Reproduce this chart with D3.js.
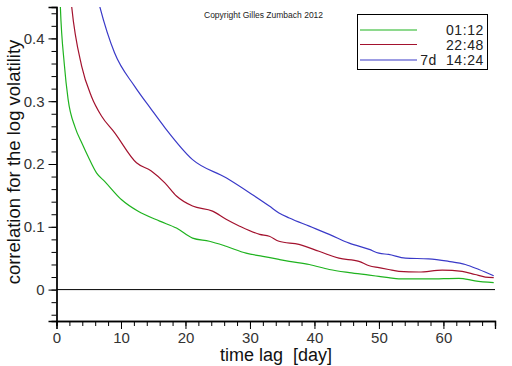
<!DOCTYPE html>
<html>
<head>
<meta charset="utf-8">
<script src="https://cdn.jsdelivr.net/npm/d3@7"></script>
<style>
  body { margin: 0; background: #fff; }
  svg { display: block; font-family: "Liberation Sans", Arial, sans-serif; }
</style>
</head>
<body>
<svg id="viz_area" width="512" height="366"></svg>
<script>
// lag in days, correlation values
const greenLag = [0.3, 0.6, 1.2, 1.8, 2.9, 4.0, 4.9, 6.2, 7.5, 10.1, 12.6, 16.0, 18.6, 21.1, 23.7, 26.3, 29.4, 32.0, 34.5, 36.1, 39.2, 42.3, 45.4, 48.5, 50.0, 51.5, 53.1, 57.7, 62.4, 64.9, 67.8]
const greenVal = [0.55, 0.45, 0.36, 0.303, 0.258, 0.232, 0.212, 0.186, 0.172, 0.143, 0.125, 0.109, 0.098, 0.082, 0.077, 0.069, 0.058, 0.053, 0.048, 0.045, 0.040, 0.032, 0.027, 0.023, 0.021, 0.019, 0.017, 0.017, 0.018, 0.014, 0.011]

const redLag = [2.0, 2.35, 3.9, 5.4, 7.0, 9.0, 12.4, 14.7, 16.8, 18.6, 21.1, 24.2, 26.3, 28.4, 31.5, 33.0, 34.5, 37.6, 40.7, 43.8, 46.9, 48.5, 50.0, 51.5, 53.1, 56.2, 59.8, 62.9, 64.9, 66.5, 67.8]
const redVal = [0.49, 0.451, 0.356, 0.308, 0.276, 0.25, 0.202, 0.189, 0.17, 0.149, 0.133, 0.125, 0.112, 0.101, 0.088, 0.085, 0.077, 0.072, 0.061, 0.050, 0.045, 0.038, 0.035, 0.032, 0.029, 0.028, 0.031, 0.029, 0.024, 0.020, 0.019]

const blueLag = [6.0, 6.7, 9.0, 12.1, 14.7, 16.8, 21.1, 26.3, 30.4, 33.0, 34.5, 36.1, 39.2, 42.3, 45.4, 48.5, 50.0, 51.5, 54.1, 57.7, 60.8, 63.4, 65.5, 67.8]
const blueVal = [0.48, 0.451, 0.377, 0.324, 0.287, 0.258, 0.207, 0.178, 0.151, 0.133, 0.122, 0.114, 0.101, 0.088, 0.074, 0.064, 0.058, 0.056, 0.050, 0.049, 0.045, 0.040, 0.032, 0.022]

const seriesNames = ['01:12', '22:48', '7d  14:24']
const seriesColors = ['#1fb31f', '#a3122e', '#3a3ac8']

const xTicks = [0, 10, 20, 30, 40, 50, 60]
const yTicks = [0, 0.1, 0.2, 0.3, 0.4]

const margin = {
    top: 7,
    right: 17,
    bottom: 45,
    left: 56.5
}

let svgSize, graphSize

function setSizing() {
    svgSize = { width: 512, height: 366 }
    graphSize = {
        width: svgSize.width - margin.left - margin.right,
        height: svgSize.height - margin.top - margin.bottom
    }
}

function drawChart() {
    setSizing()
    const svg = d3.select('#viz_area')

    const g = svg.append('g')
        .attr('transform', 'translate(' + margin.left + ',' + margin.top + ')')

    const xScale = d3.scaleLinear().domain([0, 68]).range([0, graphSize.width])
    const yScale = d3.scaleLinear().domain([-0.05, 0.45]).range([graphSize.height, 0])

    svg.append('defs').append('clipPath').attr('id', 'plotclip')
        .append('rect')
        .attr('x', 0).attr('y', 0)
        .attr('width', graphSize.width).attr('height', graphSize.height)

    // zero line
    g.append('line')
        .attr('x1', 0).attr('x2', graphSize.width)
        .attr('y1', yScale(0)).attr('y2', yScale(0))
        .attr('stroke', '#000').attr('stroke-width', 1)

    // axes: minor ticks then major ticks with labels
    const xAxisG = g.append('g').attr('transform', 'translate(0,' + graphSize.height + ')')
    xAxisG.call(d3.axisBottom(xScale).tickValues(d3.range(0, 69, 2)).tickSize(5).tickFormat(''))
    xAxisG.append('g').call(d3.axisBottom(xScale).tickValues(xTicks).tickSize(8).tickPadding(3).tickFormat(d3.format('d')))

    const yAxisG = g.append('g')
    yAxisG.call(d3.axisLeft(yScale).tickValues(d3.range(-0.04, 0.451, 0.02)).tickSize(5).tickFormat(''))
    yAxisG.append('g').call(d3.axisLeft(yScale).tickValues(yTicks).tickSize(8).tickPadding(3).tickFormat(function (d) { return d === 0 ? '0' : d3.format('.1f')(d) }))

    g.selectAll('.domain').attr('stroke', '#000').attr('stroke-width', 1.3)
    g.selectAll('.tick line').attr('stroke', '#000')
    g.selectAll('.tick text')
        .attr('font-size', 15)
        .attr('font-family', '"Liberation Sans", Arial, sans-serif')
        .attr('fill', '#333')
    yAxisG.selectAll('.tick text').attr('dx', '-1')

    // curves
    const line = d3.line()
        .x(function (d) { return xScale(d[0]) })
        .y(function (d) { return yScale(d[1]) })
        .curve(d3.curveMonotoneX)

    const allSeries = [
        d3.zip(greenLag, greenVal),
        d3.zip(redLag, redVal),
        d3.zip(blueLag, blueVal)
    ]

    g.append('g').attr('clip-path', 'url(#plotclip)')
        .selectAll('path')
        .data(allSeries)
        .enter()
        .append('path')
        .attr('d', line)
        .attr('fill', 'none')
        .attr('stroke', function (d, i) { return seriesColors[i] })
        .attr('stroke-width', 1.2)

    // legend
    const legend = svg.append('g')
    legend.append('rect')
        .attr('x', 357.5).attr('y', 14.5)
        .attr('width', 130).attr('height', 55)
        .attr('fill', '#fff').attr('stroke', '#000')
    const legendY = [30, 44.5, 60]
    seriesNames.forEach(function (name, i) {
        legend.append('line')
            .attr('x1', 360).attr('x2', 417)
            .attr('y1', legendY[i]).attr('y2', legendY[i])
            .attr('stroke', seriesColors[i]).attr('stroke-width', 1.2)
        legend.append('text')
            .attr('x', 484).attr('y', legendY[i] + 5)
            .attr('text-anchor', 'end')
            .attr('font-size', 14)
            .attr('letter-spacing', 0.6)
            .style('white-space', 'pre')
            .attr('fill', '#222')
            .text(name)
    })

    // copyright
    svg.append('text')
        .attr('x', 204).attr('y', 18)
        .attr('font-size', 8.5)
        .attr('fill', '#222')
        .text('Copyright Gilles Zumbach 2012')

    // axis titles
    svg.append('text')
        .attr('x', 276).attr('y', 361)
        .attr('text-anchor', 'middle')
        .attr('font-size', 18)
        .style('white-space', 'pre')
        .attr('fill', '#111')
        .text('time lag  [day]')

    svg.append('text')
        .attr('transform', 'translate(20,162) rotate(-90)')
        .attr('text-anchor', 'middle')
        .attr('font-size', 18.5)
        .attr('fill', '#111')
        .text('correlation for the log volatility')
}

drawChart()
</script>
</body>
</html>
